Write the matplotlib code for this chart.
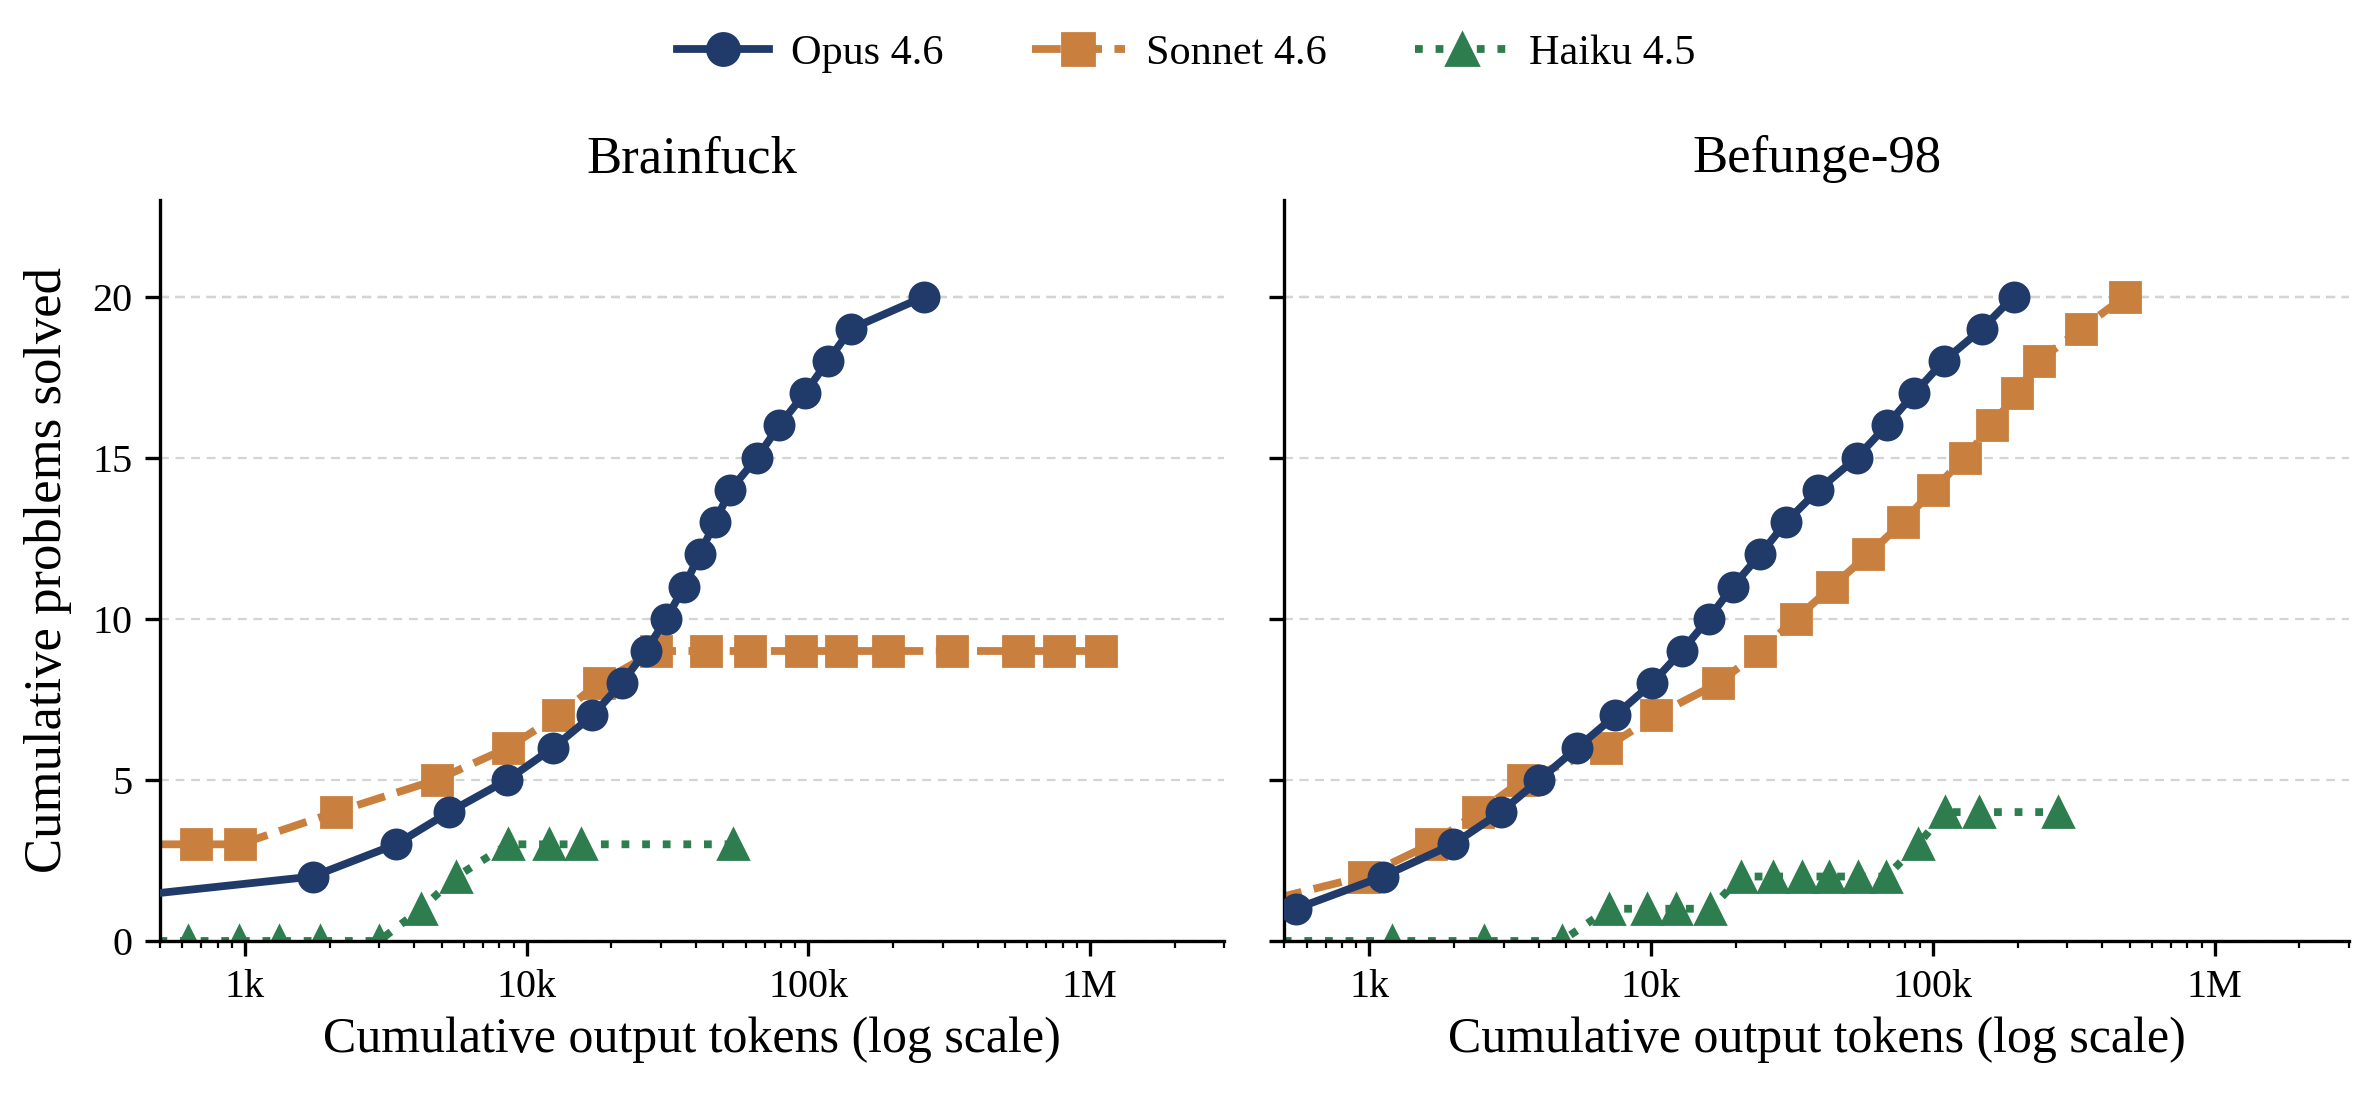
import numpy as np
import matplotlib.pyplot as plt
from matplotlib.ticker import FixedLocator, FuncFormatter, LogLocator, NullFormatter

plt.rcParams["font.family"] = ["Liberation Serif", "DejaVu Serif"]

# Brainfuck panel
bf_opus_x = [150, 1740, 3440, 5310, 8550, 12450, 17140, 21740, 26530, 31340, 36300,
             41200, 46700, 52900, 65900, 78900, 97300, 117500, 142000, 258800]
bf_opus_y = [1, 2, 3, 4, 5, 6, 7, 8, 9, 10, 11, 12, 13, 14, 15, 16, 17, 18, 19, 20]
bf_sonnet_x = [350, 671, 960, 2100, 4790, 8610, 12920, 18030, 28840, 43270, 62200,
               94100, 131000, 192000, 324800, 555000, 779000, 1100000]
bf_sonnet_y = [3, 3, 3, 4, 5, 6, 7, 8, 9, 9, 9, 9, 9, 9, 9, 9, 9, 9]
bf_haiku_x = [300, 626, 953, 1325, 1841, 2990, 4230, 5640, 8610, 12050, 15630, 54000]
bf_haiku_y = [0, 0, 0, 0, 0, 0, 1, 2, 3, 3, 3, 3]

# Befunge-98 panel
bg_opus_x = [549, 1116, 1980, 2930, 4010, 5480, 7470, 10090, 12850, 16000, 19490,
             24430, 30130, 39200, 53700, 68600, 86100, 109300, 149600, 193500]
bg_opus_y = [1, 2, 3, 4, 5, 6, 7, 8, 9, 10, 11, 12, 13, 14, 15, 16, 17, 18, 19, 20]
bg_sonnet_x = [330, 955, 1650, 2440, 3520, 6900, 10420, 17300, 24430, 32650, 43900,
               59100, 78300, 100300, 130000, 161700, 198700, 237700, 336000, 481000]
bg_sonnet_y = [1, 2, 3, 4, 5, 6, 7, 8, 9, 10, 11, 12, 13, 14, 15, 16, 17, 18, 19, 20]
bg_haiku_x = [300, 1200, 2560, 4820, 7080, 9640, 12270, 16250, 20900, 27100, 34300,
              42700, 54300, 68400, 88800, 110400, 145300, 278400]
bg_haiku_y = [0, 0, 0, 0, 1, 1, 1, 1, 2, 2, 2, 2, 2, 2, 3, 4, 4, 4]

panels = [
    ("Brainfuck", bf_opus_x, bf_opus_y, bf_sonnet_x, bf_sonnet_y, bf_haiku_x, bf_haiku_y),
    ("Befunge-98", bg_opus_x, bg_opus_y, bg_sonnet_x, bg_sonnet_y, bg_haiku_x, bg_haiku_y),
]

tick_vals = [1e3, 1e4, 1e5, 1e6]
tick_labels = ["1k", "10k", "100k", "1M"]

NAVY = "#203a6a"
ORANGE = "#c97f3e"
GREEN = "#2e7d4f"

fig = plt.figure(figsize=(11.86, 5.495), dpi=200)
ax_left = fig.add_axes([0.0675, 0.1438, 0.4486, 0.6743])
ax_right = fig.add_axes([0.5415, 0.1438, 0.4488, 0.6743], sharey=ax_left)

for ax, (title, ox, oy, sx, sy, hx, hy) in zip([ax_left, ax_right], panels):
    ax.plot(ox, oy, color=NAVY, lw=2.8, ls="-", marker="o", ms=10.5, label="Opus 4.6", zorder=3)
    ax.plot(sx, sy, color=ORANGE, lw=2.8, ls="--", marker="s", ms=10.5,
            label="Sonnet 4.6", zorder=2)
    ax.plot(hx, hy, color=GREEN, lw=2.8, ls=":", marker="^", ms=10.5,
            label="Haiku 4.5", zorder=2)

    ax.set_xscale("log")
    ax.set_xlim(500, 3e6)
    ax.set_ylim(0, 23)
    ax.xaxis.set_major_locator(FixedLocator(tick_vals))
    ax.xaxis.set_major_formatter(FuncFormatter(
        lambda v, p: tick_labels[tick_vals.index(v)] if v in tick_vals else ""))
    ax.xaxis.set_minor_locator(LogLocator(base=10, subs=np.arange(2, 10)))
    ax.xaxis.set_minor_formatter(NullFormatter())
    ax.set_yticks([0, 5, 10, 15, 20])

    ax.grid(axis="y", ls=(0, (4, 3)), color="#d4d4d4", lw=0.8, zorder=0)
    ax.axhline(20, ls=(0, (4, 3)), color="#aaaaaa", lw=0.8, zorder=1)

    for side in ["top", "right"]:
        ax.spines[side].set_visible(False)
    for side in ["left", "bottom"]:
        ax.spines[side].set_linewidth(1.2)
    ax.tick_params(axis="both", which="major", labelsize=14.5, length=5.5, width=1.2, pad=4.5)
    ax.tick_params(axis="x", which="minor", length=2.5, width=0.8)

    ax.set_title(title, fontsize=19, pad=10)
    ax.set_xlabel("Cumulative output tokens (log scale)", fontsize=18)

ax_left.set_ylabel("Cumulative problems solved", fontsize=19)
ax_left.yaxis.set_label_coords(-0.083, 0.5)
ax_right.tick_params(axis="y", labelleft=False)

handles, labels = ax_left.get_legend_handles_labels()
fig.legend(handles, labels, loc="center", bbox_to_anchor=(0.5, 0.951), ncol=3,
           frameon=False, fontsize=15.2, handlelength=2.2, handletextpad=0.5,
           columnspacing=2.1, markerscale=1.1)

fig.savefig("out.png", dpi=200)
